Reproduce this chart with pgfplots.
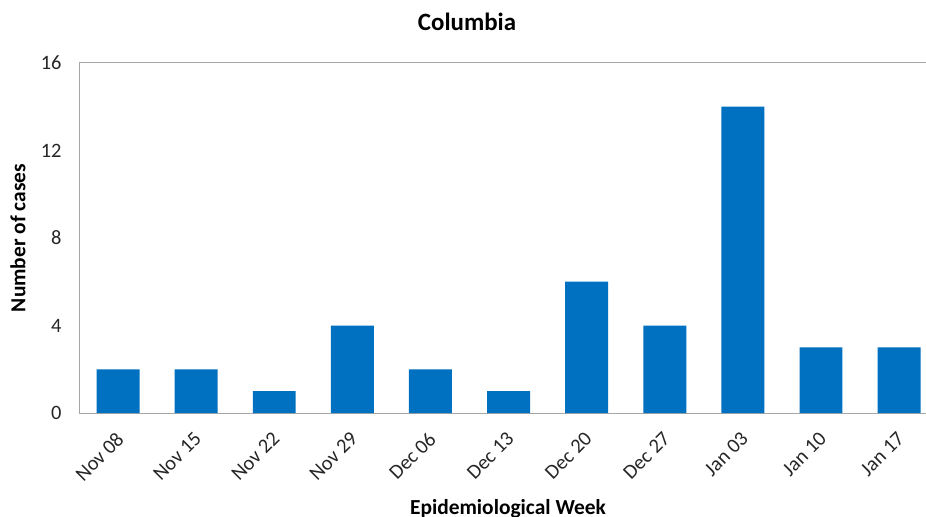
\documentclass[border=0pt]{standalone}
\usepackage{pgfplots}
\pgfplotsset{compat=1.18}
\usepackage{fontspec}
\setmainfont{Carlito}
\definecolor{barblue}{HTML}{0070C0}
\definecolor{axgray}{HTML}{A6A6A6}
\begin{document}
\begin{tikzpicture}
\useasboundingbox (-79bp,-104bp) rectangle (847bp,413bp);
\begin{axis}[
  at={(0,0)}, anchor=south west,
  scale only axis, width=849bp, height=350bp,
  xmin=-0.5, xmax=10.37, ymin=0, ymax=16,
  axis x line*=bottom, axis y line*=left,
  axis line style={axgray, line width=1pt},
  ytick={0,4,8,12,16},
  xtick={0,...,10},
  xticklabels={Nov 08,Nov 15,Nov 22,Nov 29,Dec 06,Dec 13,Dec 20,Dec 27,Jan 03,Jan 10,Jan 17},
  major tick length=0pt,
  /pgf/number format/assume math mode=true,
  tick label style={font=\fontsize{20.5}{23}\selectfont, text=black!85},
  yticklabel style={anchor=east, xshift=-14bp},
  xticklabel style={yshift=-13bp, xshift=-3bp, rotate=45, anchor=north east},
  ybar, bar width=0.55,
  clip=false,
]
\addplot[fill=barblue, draw=none] coordinates {
  (0,2) (1,2) (2,1) (3,4) (4,2) (5,1) (6,6) (7,4) (8,14) (9,3) (10,3)};
\draw[axgray, line width=1pt] (rel axis cs:0,1) -- (rel axis cs:1,1);
\end{axis}
\node[font=\bfseries\fontsize{25}{28}\selectfont] at (388bp,391bp) {Columbia};
\node[font=\bfseries\fontsize{21.5}{24}\selectfont, rotate=90] at (-61bp,175bp) {Number of cases};
\node[font=\bfseries\fontsize{21.5}{24}\selectfont, anchor=base] at (429bp,-101bp) {Epidemiological Week};
\end{tikzpicture}
\end{document}
